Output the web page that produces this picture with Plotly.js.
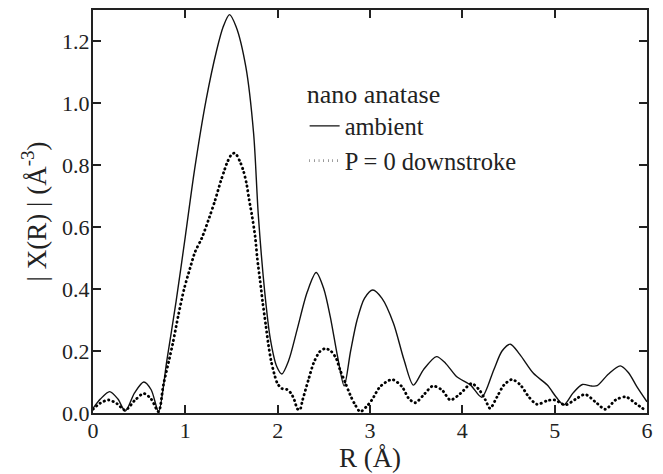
<!DOCTYPE html>
<html>
<head>
<meta charset="utf-8">
<script src="https://cdn.plot.ly/plotly-3.0.1.min.js"></script>
<style>html,body{margin:0;padding:0;background:#fff;}#chart{width:663px;height:474px;}
.dotted-trace path.js-line{stroke-linecap:round !important;}</style>
</head>
<body>
<div id="chart"></div>
<script>
// ambient (solid)
var ambientR = [0, 0.08, 0.18, 0.27, 0.35, 0.45, 0.55, 0.63, 0.71, 0.80, 0.90, 1.0, 1.10, 1.225, 1.34, 1.41, 1.478, 1.55, 1.655, 1.74, 1.79, 1.86, 1.92, 1.99, 2.045, 2.12, 2.21, 2.32, 2.417, 2.50, 2.57, 2.65, 2.72, 2.79, 2.86, 2.94, 3.03, 3.13, 3.255, 3.37, 3.47, 3.58, 3.72, 3.82, 3.94, 4.09, 4.21, 4.34, 4.43, 4.52, 4.62, 4.77, 4.92, 5.02, 5.10, 5.20, 5.30, 5.40, 5.46, 5.58, 5.71, 5.80, 5.89, 6.0];
var ambientY = [0.015, 0.045, 0.069, 0.045, 0.006, 0.065, 0.100, 0.075, 0.005, 0.17, 0.36, 0.57, 0.785, 1.01, 1.171, 1.246, 1.285, 1.246, 1.117, 0.90, 0.64, 0.39, 0.24, 0.15, 0.126, 0.17, 0.268, 0.39, 0.453, 0.40, 0.31, 0.18, 0.087, 0.20, 0.30, 0.37, 0.397, 0.37, 0.289, 0.17, 0.090, 0.14, 0.182, 0.16, 0.117, 0.090, 0.051, 0.139, 0.20, 0.222, 0.19, 0.128, 0.090, 0.05, 0.026, 0.065, 0.092, 0.087, 0.088, 0.125, 0.152, 0.13, 0.085, 0.036];
// P = 0 downstroke (dotted)
var downR = [0, 0.08, 0.17, 0.26, 0.35, 0.45, 0.55, 0.63, 0.71, 0.762, 0.828, 0.864, 0.925, 0.986, 1.05, 1.106, 1.178, 1.26, 1.32, 1.384, 1.42, 1.449, 1.503, 1.54, 1.593, 1.63, 1.662, 1.69, 1.724, 1.756, 1.78, 1.81, 1.839, 1.871, 1.9, 1.929, 1.965, 1.998, 2.045, 2.1, 2.146, 2.18, 2.215, 2.24, 2.27, 2.334, 2.388, 2.453, 2.515, 2.576, 2.634, 2.677, 2.732, 2.786, 2.84, 2.894, 2.96, 3.02, 3.11, 3.24, 3.346, 3.42, 3.49, 3.58, 3.68, 3.78, 3.87, 3.98, 4.1, 4.18, 4.25, 4.3, 4.376, 4.45, 4.538, 4.63, 4.72, 4.81, 4.92, 5.0, 5.116, 5.224, 5.33, 5.44, 5.55, 5.66, 5.77, 5.88, 5.98];
var downY = [0.012, 0.032, 0.042, 0.03, 0.009, 0.04, 0.063, 0.045, 0.004, 0.09, 0.176, 0.224, 0.316, 0.399, 0.466, 0.52, 0.564, 0.631, 0.684, 0.748, 0.78, 0.805, 0.835, 0.838, 0.81, 0.78, 0.741, 0.69, 0.633, 0.569, 0.497, 0.426, 0.354, 0.284, 0.22, 0.168, 0.124, 0.095, 0.079, 0.076, 0.063, 0.042, 0.013, 0.01, 0.042, 0.108, 0.16, 0.197, 0.208, 0.2, 0.176, 0.138, 0.098, 0.058, 0.026, 0.004, 0.02, 0.042, 0.085, 0.108, 0.085, 0.047, 0.033, 0.058, 0.087, 0.074, 0.042, 0.063, 0.095, 0.076, 0.042, 0.015, 0.052, 0.09, 0.108, 0.09, 0.052, 0.028, 0.04, 0.042, 0.026, 0.044, 0.06, 0.036, 0.012, 0.042, 0.052, 0.03, 0.009];

var xTicks = [0, 1, 2, 3, 4, 5, 6];
var yTicks = [0, 0.2, 0.4, 0.6, 0.8, 1.0, 1.2];
var yTickText = ['0.0', '0.2', '0.4', '0.6', '0.8', '1.0', '1.2'];
var legendTitle = 'nano anatase';
var seriesNames = ['ambient', 'P = 0 downstroke'];

var font = '"Liberation Serif", "Times New Roman", Times, serif';
var traces = [
  {x: ambientR, y: ambientY, name: seriesNames[0], mode: 'lines',
   line: {color: '#111', width: 1.4, shape: 'spline', smoothing: 0.8}},
  {x: downR, y: downY, name: seriesNames[1], mode: 'lines',
   line: {color: '#000', width: 2.8, shape: 'spline', smoothing: 0.8, dash: '0.4px,4.2px'}}
];
var axisCommon = {
  showline: true, linecolor: '#222', linewidth: 2, mirror: 'ticks',
  ticks: 'inside', ticklen: 8, tickwidth: 2, tickcolor: '#222',
  showgrid: false, zeroline: false,
  tickfont: {family: font, size: 22, color: '#222'}
};
var layout = {
  width: 663, height: 474,
  font: {family: font, color: '#222'},
  margin: {l: 93, r: 16, t: 10, b: 61},
  paper_bgcolor: '#fff', plot_bgcolor: '#fff',
  showlegend: true,
  legend: {x: 0.382, y: 0.852, xanchor: 'left', yanchor: 'top',
    bgcolor: 'rgba(0,0,0,0)', borderwidth: 0,
    font: {family: font, size: 24.5, color: '#222'},
    title: {text: legendTitle, font: {family: font, size: 26, color: '#222'}},
    tracegroupgap: 0, itemwidth: 30},
  xaxis: Object.assign({}, axisCommon, {range: [0, 6], tickvals: xTicks, ticktext: xTicks.map(String),
    ticklabelstandoff: -3,
    title: {text: 'R (Å)', font: {family: font, size: 27, color: '#222'}, standoff: 6}}),
  yaxis: Object.assign({}, axisCommon, {range: [0, 1.3], tickvals: yTicks, ticktext: yTickText,
    ticklabelstandoff: -3,
    title: {text: '| X(R) | (Å<sup>-3</sup>)', font: {family: font, size: 27, color: '#222'}, standoff: 8}})
};
Plotly.newPlot('chart', traces, layout, {displayModeBar: false, staticPlot: true}).then(function (gd) {
  var groups = gd.querySelectorAll('.scatterlayer .trace');
  if (groups[1]) groups[1].classList.add('dotted-trace');
  var paths = gd.querySelectorAll('.dotted-trace path.js-line');
  paths.forEach(function (p) { p.style.strokeLinecap = 'round'; });
});
</script>
</body>
</html>
